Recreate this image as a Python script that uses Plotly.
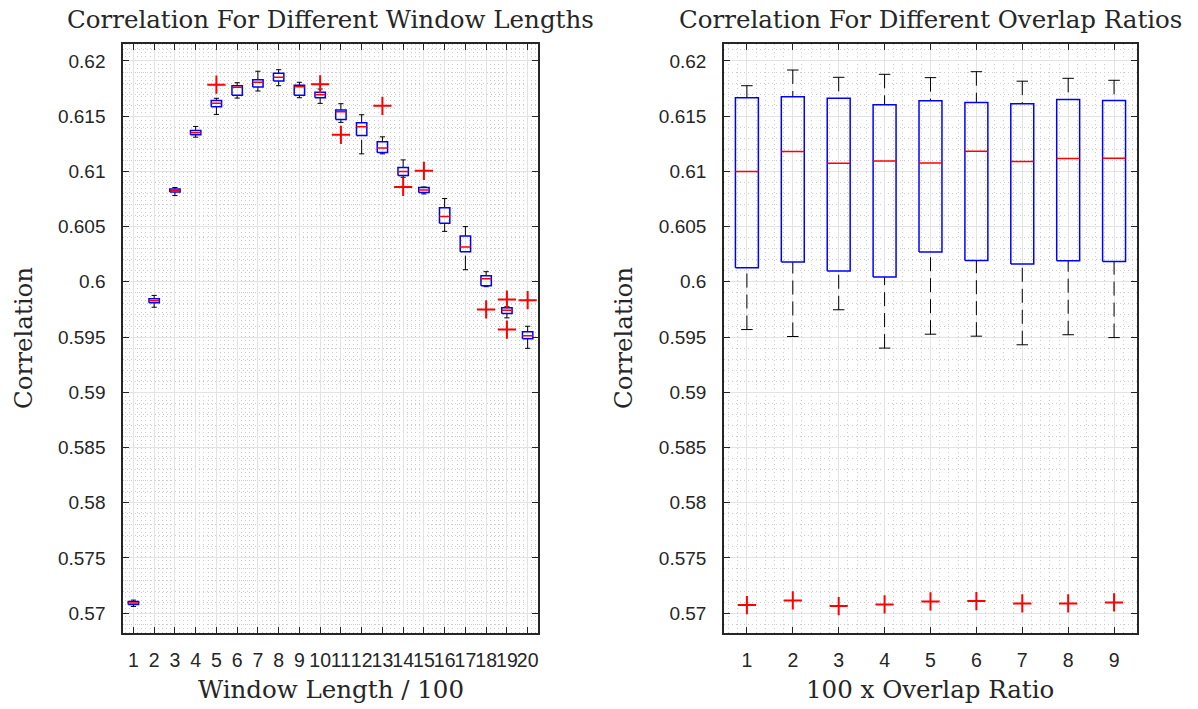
import plotly.graph_objects as go

# ---------------- data: window lengths (left) ----------------
win_cats = list(range(1, 21))
win_q1 = [0.57079, 0.59810, 0.60814, 0.61331, 0.61585, 0.61689, 0.61764, 0.61819, 0.61689, 0.61667,
          0.61471, 0.61326, 0.61172, 0.60963, 0.60809, 0.60530, 0.60273, 0.59965, 0.59713, 0.59484]
win_med = [0.57093, 0.59828, 0.60827, 0.61349, 0.61616, 0.61761, 0.61807, 0.61852, 0.61767, 0.61694,
           0.61540, 0.61404, 0.61211, 0.60999, 0.60832, 0.60591, 0.60315, 0.60028, 0.59743, 0.59511]
win_q3 = [0.57106, 0.59847, 0.60841, 0.61371, 0.61643, 0.61776, 0.61830, 0.61888, 0.61779, 0.61716,
          0.61555, 0.61440, 0.61268, 0.61035, 0.60854, 0.60672, 0.60415, 0.60055, 0.59765, 0.59547]
win_lo = [0.57061, 0.59770, 0.60781, 0.61310, 0.61516, 0.61664, 0.61728, 0.61776, 0.61667, 0.61616,
          0.61444, 0.61159, 0.61159, 0.60947, 0.60796, 0.60457, 0.60110, 0.59956, 0.59674, 0.59398]
win_hi = [0.57118, 0.59877, 0.60854, 0.61407, 0.61662, 0.61803, 0.61907, 0.61921, 0.61807, 0.61746,
          0.61613, 0.61513, 0.61313, 0.61104, 0.60859, 0.60754, 0.60500, 0.60092, 0.59774, 0.59598]
win_out_x = [5, 10, 11, 13, 14, 15, 18, 19, 19, 20]
win_out_y = [0.61785, 0.61789, 0.61331, 0.61594, 0.60859, 0.61005, 0.59750, 0.59840, 0.59568, 0.59834]

# ---------------- data: overlap ratios (right) ----------------
ov_cats = list(range(1, 10))
ov_q1 = [0.60128, 0.60179, 0.60098, 0.60043, 0.60270, 0.60194, 0.60161, 0.60191, 0.60185]
ov_med = [0.60999, 0.61181, 0.61074, 0.61095, 0.61077, 0.61183, 0.61090, 0.61117, 0.61120]
ov_q3 = [0.61667, 0.61676, 0.61662, 0.61603, 0.61640, 0.61625, 0.61613, 0.61652, 0.61643]
ov_lo = [0.59568, 0.59505, 0.59747, 0.59400, 0.59526, 0.59508, 0.59430, 0.59521, 0.59495]
ov_hi = [0.61776, 0.61918, 0.61852, 0.61879, 0.61849, 0.61903, 0.61817, 0.61843, 0.61825]
ov_out_x = [1, 2, 3, 4, 5, 6, 7, 8, 9]
ov_out_y = [0.57073, 0.57115, 0.57064, 0.57079, 0.57106, 0.57109, 0.57088, 0.57088, 0.57097]

y_ticks = [0.57, 0.575, 0.58, 0.585, 0.59, 0.595, 0.6, 0.605, 0.61, 0.615, 0.62]
y_tick_text = ["0.57", "0.575", "0.58", "0.585", "0.59", "0.595", "0.6", "0.605", "0.61", "0.615", "0.62"]

BOX_HALF = 0.25
CAP_HALF = 0.125
SERIF = "DejaVu Serif"
SANS = "Liberation Sans"


def box_traces(cats, q1, med, q3, lo, hi, ox, oy, xa, ya):
    bx, by, mx, my, wx, wy, cx, cy = [], [], [], [], [], [], [], []
    for i, c in enumerate(cats):
        bx += [c - BOX_HALF, c + BOX_HALF, c + BOX_HALF, c - BOX_HALF, c - BOX_HALF, None]
        by += [q1[i], q1[i], q3[i], q3[i], q1[i], None]
        mx += [c - BOX_HALF, c + BOX_HALF, None]
        my += [med[i], med[i], None]
        wx += [c, c, None, c, c, None]
        wy += [hi[i], q3[i], None, lo[i], q1[i], None]
        cx += [c - CAP_HALF, c + CAP_HALF, None, c - CAP_HALF, c + CAP_HALF, None]
        cy += [hi[i], hi[i], None, lo[i], lo[i], None]
    common = dict(xaxis=xa, yaxis=ya, showlegend=False, hoverinfo="skip")
    return [
        go.Scatter(x=wx, y=wy, mode="lines", line=dict(color="black", width=1, dash="14px,7px"), **common),
        go.Scatter(x=cx, y=cy, mode="lines", line=dict(color="black", width=1), **common),
        go.Scatter(x=bx, y=by, mode="lines", line=dict(color="#0000ff", width=1.5), **common),
        go.Scatter(x=mx, y=my, mode="lines", line=dict(color="#ff0000", width=1.5), **common),
        go.Scatter(x=ox, y=oy, mode="markers",
                   marker=dict(symbol="cross-thin", size=13, line=dict(color="#ff0000", width=2)), **common),
    ]


fig = go.Figure()
for t in box_traces(win_cats, win_q1, win_med, win_q3, win_lo, win_hi, win_out_x, win_out_y, "x", "y"):
    fig.add_trace(t)
for t in box_traces(ov_cats, ov_q1, ov_med, ov_q3, ov_lo, ov_hi, ov_out_x, ov_out_y, "x2", "y2"):
    fig.add_trace(t)

AX = "#262626"
GRID = "#e3e3e3"
MINOR = "#cccccc"
YR = [0.56819, 0.62154]


def xaxis(domain, n, anchor):
    return dict(domain=domain, range=[0.5, n + 0.5], anchor=anchor, automargin=False,
                tickmode="array", tickvals=list(range(1, n + 1)), ticktext=[str(i) for i in range(1, n + 1)],
                tickangle=0, ticklabelstandoff=9,
                ticks="inside", ticklen=6, tickcolor=AX, showline=True, linecolor=AX, linewidth=1.5,
                mirror="ticks", showgrid=True, gridcolor=GRID, gridwidth=1, zeroline=False,
                minor=dict(dtick=0.2, tick0=0, showgrid=True, gridcolor=MINOR, griddash="1px,3px", gridwidth=1, ticks=""),
                tickfont=dict(family=SANS, size=19.5, color="#262626"))


def yaxis(anchor):
    return dict(domain=[0.107, 0.938], range=YR, anchor=anchor, automargin=False,
                tickmode="array", tickvals=y_ticks, ticktext=y_tick_text, ticklabelstandoff=12,
                ticks="inside", ticklen=6, tickcolor=AX, showline=True, linecolor=AX, linewidth=1.5,
                mirror="ticks", showgrid=True, gridcolor=GRID, gridwidth=1, zeroline=False,
                minor=dict(dtick=0.001, tick0=0.57, showgrid=True, gridcolor=MINOR, griddash="1px,3px", gridwidth=1, ticks=""),
                tickfont=dict(family=SANS, size=19, color="#262626"))


fig.update_layout(
    width=1198, height=709,
    margin=dict(l=0, r=0, t=0, b=0),
    paper_bgcolor="white", plot_bgcolor="white",
    xaxis=xaxis([0.1027, 0.4491], 20, "y"),
    yaxis=yaxis("x"),
    xaxis2=xaxis([0.6043, 0.9491], 9, "y2"),
    yaxis2=yaxis("x2"),
)

annotations = [
    dict(text="Correlation For Different Window Lengths", x=0.2759, y=1 - 20 / 709),
    dict(text="Correlation For Different Overlap Ratios", x=0.7767, y=1 - 20 / 709),
    dict(text="Window Length / 100", x=0.2759, y=1 - 689 / 709),
    dict(text="100 x Overlap Ratio", x=0.7767, y=1 - 689 / 709),
]
for a in annotations:
    fig.add_annotation(xref="paper", yref="paper", showarrow=False, xanchor="center", yanchor="middle",
                       font=dict(family=SERIF, size=24.5, color="#262626"), **a)
for xp in [24 / 1198, 624 / 1198]:
    fig.add_annotation(text="Correlation", xref="paper", yref="paper", x=xp, y=1 - 338 / 709,
                       showarrow=False, textangle=-90, xanchor="center", yanchor="middle",
                       font=dict(family=SERIF, size=24.5, color="#262626"))

fig.write_html("out.html", config={"displayModeBar": False},
               post_script="document.body.style.margin='0px';document.body.style.padding='0px';")
